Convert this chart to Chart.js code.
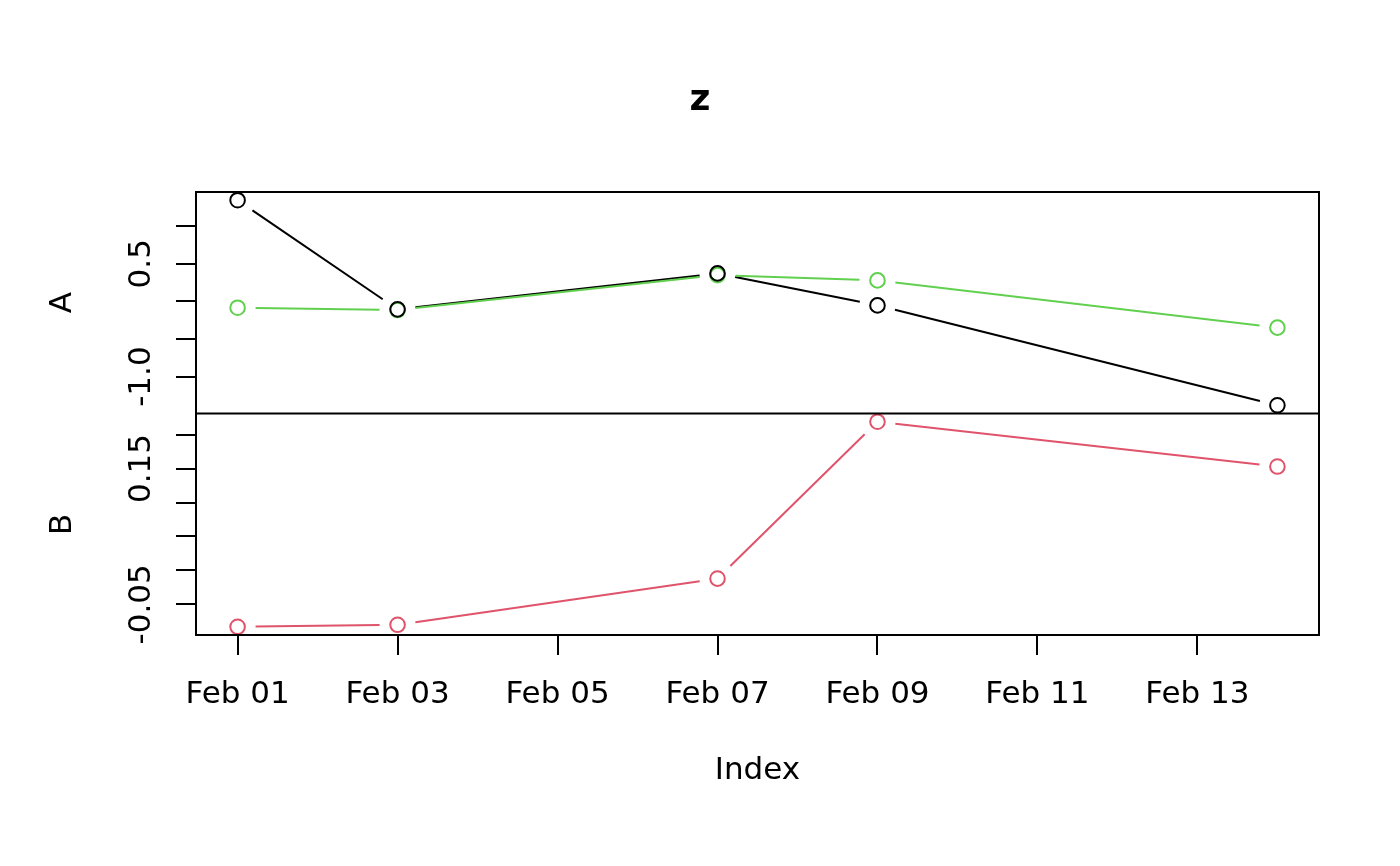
<!DOCTYPE html>
<html>
<head>
<meta charset="utf-8">
<title>z</title>
<script src="https://cdn.jsdelivr.net/npm/chart.js@4.4.1/dist/chart.umd.min.js"></script>
<style>
  html, body { margin: 0; padding: 0; background: #fff; }
  #wrap { width: 1400px; height: 866px; }
</style>
</head>
<body>
<div id="wrap"><canvas id="chart" width="1400" height="866"></canvas></div>
<script>
// Days of February for each observation
const days = [1, 3, 7, 9, 14];

// Panel A (two series) and panel B
const seriesA1 = [1.345, -0.106, 0.372, -0.053, -1.381];   // black
const seriesA2 = [-0.084, -0.115, 0.349, 0.279, -0.349];   // green
const seriesB = [-0.083, -0.080, -0.012, 0.219, 0.153];    // red

// Axis ticks
const xTickDays = [1, 3, 5, 7, 9, 11, 13];
const yTicksA = [-1.0, -0.5, 0, 0.5, 1.0];
const yLabelsA = [-1.0, 0.5];
const yLabelTextA = ["-1.0", "0.5"];
const yTicksB = [-0.05, 0, 0.05, 0.10, 0.15, 0.20];
const yLabelsB = [-0.05, 0.15];
const yLabelTextB = ["-0.05", "0.15"];

const mainTitle = "z";

Chart.defaults.font.family = "'DejaVu Sans', sans-serif";
Chart.defaults.color = "#000";

// R style range: data range plus 4% on each side
function padRange(vals) {
  let lo = Math.min(...vals), hi = Math.max(...vals);
  let d = (hi - lo) * 0.04;
  return [lo - d, hi + d];
}

let rangeA = padRange(seriesA1.concat(seriesA2));
let rangeB = padRange(seriesB);
let rangeX = padRange(days);

function toPoints(vals) {
  return days.map((d, i) => ({ x: d, y: vals[i] }));
}

function lineSet(label, vals, color, axis) {
  return {
    label: label,
    data: toPoints(vals),
    yAxisID: axis,
    showLine: false,          // segments are drawn with gaps by the plugin below
    borderColor: color,
    borderWidth: 2,
    pointRadius: 7.3,
    pointBorderWidth: 2,
    pointBorderColor: color,
    pointBackgroundColor: "rgba(0,0,0,0)"
  };
}

function yAxis(range, ticks, title, weight) {
  return {
    type: "linear",
    position: "left",
    stack: "panels",
    stackWeight: 1,
    weight: weight,
    min: range[0],
    max: range[1],
    afterBuildTicks: s => { s.ticks = ticks.map(v => ({ value: v })); },
    afterFit: s => { s.width = 196; },
    ticks: { display: false },
    grid: { drawOnChartArea: false, tickLength: 20, color: "#000", lineWidth: 2 },
    border: { color: "#000", width: 2 },
    title: {
      display: true,
      text: title,
      color: "#000",
      font: { size: 31 },
      padding: { top: 44, bottom: 0 }
    }
  };
}

// type "b" lines: segments between points, stopping short of each point
const gapLines = {
  id: "gapLines",
  beforeDatasetsDraw(chart) {
    const ctx = chart.ctx;
    const gap = 18;
    ctx.save();
    chart.data.datasets.forEach((ds, i) => {
      const pts = chart.getDatasetMeta(i).data;
      ctx.strokeStyle = ds.borderColor;
      ctx.lineWidth = ds.borderWidth;
      for (let k = 0; k < pts.length - 1; k++) {
        const p = pts[k], q = pts[k + 1];
        const dx = q.x - p.x, dy = q.y - p.y;
        const len = Math.hypot(dx, dy);
        if (len <= 2 * gap) continue;
        const ux = dx / len, uy = dy / len;
        ctx.beginPath();
        ctx.moveTo(p.x + ux * gap, p.y + uy * gap);
        ctx.lineTo(q.x - ux * gap, q.y - uy * gap);
        ctx.stroke();
      }
    });
    ctx.restore();
  }
};

// Box round the panels, a line between them, rotated y tick labels, title
const panelPlugin = {
  id: "panels",
  afterDraw(chart) {
    const ctx = chart.ctx;
    const a = chart.chartArea;
    const yA = chart.scales.yA;
    ctx.save();
    ctx.strokeStyle = "#000";
    ctx.lineWidth = 2;
    ctx.strokeRect(a.left, a.top, a.right - a.left, a.bottom - a.top);
    ctx.beginPath();
    ctx.moveTo(a.left, yA.bottom);
    ctx.lineTo(a.right, yA.bottom);
    ctx.stroke();

    ctx.fillStyle = "#000";
    ctx.font = "31px 'DejaVu Sans', sans-serif";
    ctx.textAlign = "center";
    ctx.textBaseline = "alphabetic";
    [[chart.scales.yA, yLabelsA, yLabelTextA], [chart.scales.yB, yLabelsB, yLabelTextB]].forEach(([s, vals, texts]) => {
      vals.forEach((v, i) => {
        ctx.save();
        ctx.translate(a.left - 46, s.getPixelForValue(v));
        ctx.rotate(-Math.PI / 2);
        ctx.fillText(texts[i], 0, 0);
        ctx.restore();
      });
    });

    // main title centred on the whole page
    ctx.font = "bold 36px 'DejaVu Sans', sans-serif";
    ctx.fillText(mainTitle, chart.width / 2, 110);
    ctx.restore();
  }
};

new Chart(document.getElementById("chart"), {
  type: "line",
  data: {
    datasets: [
      lineSet("A.1", seriesA1, "#000000", "yA"),
      lineSet("A.2", seriesA2, "#61D04F", "yA"),
      lineSet("B", seriesB, "#DF536B", "yB")
    ]
  },
  options: {
    responsive: false,
    animation: false,
    devicePixelRatio: 1,
    events: [],
    layout: { padding: { top: 192, right: 81, bottom: 0, left: 0 } },
    plugins: {
      legend: { display: false },
      tooltip: { enabled: false },
      title: { display: false }
    },
    scales: {
      x: {
        type: "linear",
        position: "bottom",
        min: rangeX[0],
        max: rangeX[1],
        afterBuildTicks: s => { s.ticks = xTickDays.map(v => ({ value: v })); },
        afterFit: s => { s.height = 231; },
        ticks: {
          autoSkip: false,
          maxRotation: 0,
          padding: 21,
          font: { size: 31 },
          color: "#000",
          callback: v => "Feb " + String(v).padStart(2, "0")
        },
        grid: { drawOnChartArea: false, tickLength: 20, color: "#000", lineWidth: 2 },
        border: { color: "#000", width: 2 },
        title: {
          display: true,
          text: "Index",
          color: "#000",
          font: { size: 31 },
          padding: { top: 0, bottom: 76 }
        }
      },
      yA: yAxis(rangeA, yTicksA, "A", 1),
      yB: yAxis(rangeB, yTicksB, "B", 0)
    }
  },
  plugins: [gapLines, panelPlugin]
});
</script>
</body>
</html>
